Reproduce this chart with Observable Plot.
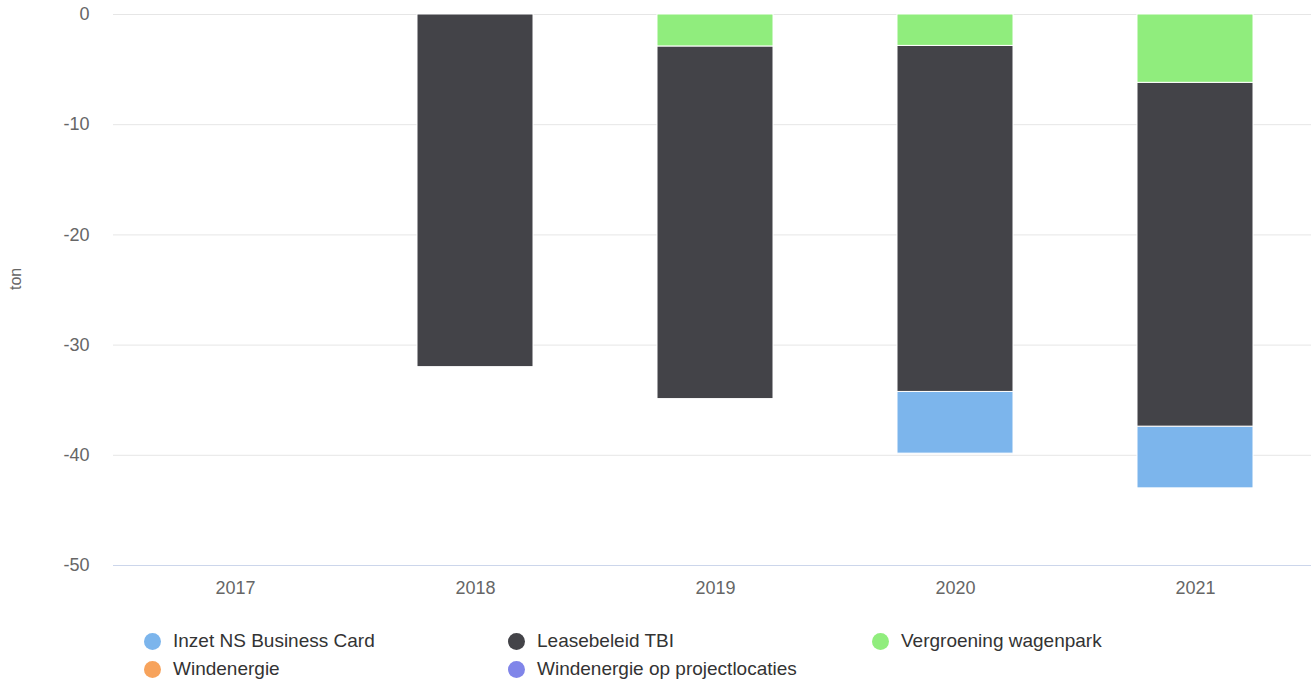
<!DOCTYPE html>
<html>
<head>
<meta charset="utf-8">
<script src="https://cdn.jsdelivr.net/npm/d3@7"></script>
<script src="https://cdn.jsdelivr.net/npm/@observablehq/plot@0.6"></script>
<style>
  html, body { margin: 0; padding: 0; background: #fff; }
  body { width: 1311px; height: 682px; overflow: hidden; font-family: "Liberation Sans", Arial, sans-serif; }
  #legend { position: relative; width: 1311px; height: 70px; }
  .item { position: absolute; display: flex; align-items: center; font-size: 19px; color: #333; white-space: nowrap; }
  .dot { width: 17px; height: 17px; border-radius: 50%; margin-right: 12px; }
</style>
</head>
<body>
<div id="chart"></div>
<div id="legend"></div>
<script>
const years = ["2017", "2018", "2019", "2020", "2021"];
const seriesNames = ["Inzet NS Business Card", "Leasebeleid TBI", "Vergroening wagenpark", "Windenergie", "Windenergie op projectlocaties"];
const seriesColors = ["#7cb5ec", "#434348", "#90ed7d", "#f7a35c", "#8085e9"];
const inzetNS = [null, null, null, -5.6, -5.6];
const leasebeleid = [null, -32, -32, -31.4, -31.2];
const vergroening = [null, null, -2.9, -2.85, -6.2];
const windenergie = [null, null, null, null, null];
const windProject = [null, null, null, null, null];
const yTicks = [0, -10, -20, -30, -40, -50];

const seriesValues = [inzetNS, leasebeleid, vergroening, windenergie, windProject];
const rows = [];
seriesNames.forEach((s, i) => {
  years.forEach((y, j) => {
    const v = seriesValues[i][j];
    if (v != null) rows.push({year: y, series: s, value: v});
  });
});
// stacking order: nearest to zero first
const stackOrder = ["Vergroening wagenpark", "Leasebeleid TBI", "Inzet NS Business Card", "Windenergie", "Windenergie op projectlocaties"];

const chart = Plot.plot({
  width: 1311,
  height: 612,
  marginTop: 14,
  marginBottom: 47,
  marginLeft: 113,
  marginRight: 0,
  style: {fontFamily: "'Liberation Sans', Arial, sans-serif", background: "#fff"},
  x: {domain: years, range: [113.7, 1316.7], paddingInner: 0.518, paddingOuter: 0.259, align: 0.5},
  y: {domain: [-50, 0]},
  color: {domain: seriesNames, range: seriesColors},
  marks: [
    Plot.ruleY(yTicks.filter(d => d !== -50), {stroke: "#e6e6e6", strokeWidth: 1}),
    Plot.ruleY([-50], {stroke: "#ccd6eb", strokeWidth: 1}),
    Plot.barY(rows, Plot.stackY({
      x: "year", y: "value", fill: "series",
      order: stackOrder,
      stroke: "#fff", strokeWidth: 1
    })),
    Plot.axisX({tickSize: 0, tickPadding: 16, fontSize: 18, color: "#666", label: null}),
    Plot.axisY(yTicks, {tickSize: 0, tickPadding: 24, fontSize: 18, color: "#666", label: null, tickFormat: d => String(d).replace("\u2212", "-")}),
    Plot.text(["ton"], {frameAnchor: "left", dx: -98, rotate: -90, fill: "#666", fontSize: 16})
  ]
});
// use hyphen-minus like reference
chart.querySelectorAll("text").forEach(t => { t.textContent = t.textContent.replace(/\u2212/g, "-"); });
document.getElementById("chart").appendChild(chart);

const legend = document.getElementById("legend");
const cols = [144, 508, 872];
seriesNames.forEach((s, i) => {
  const el = document.createElement("div");
  el.className = "item";
  el.style.left = cols[i % 3] + "px";
  el.style.top = (Math.floor(i / 3) * 28 + 18) + "px";
  el.innerHTML = `<span class="dot" style="background:${seriesColors[i]}"></span><span>${s}</span>`;
  legend.appendChild(el);
});
</script>
</body>
</html>
